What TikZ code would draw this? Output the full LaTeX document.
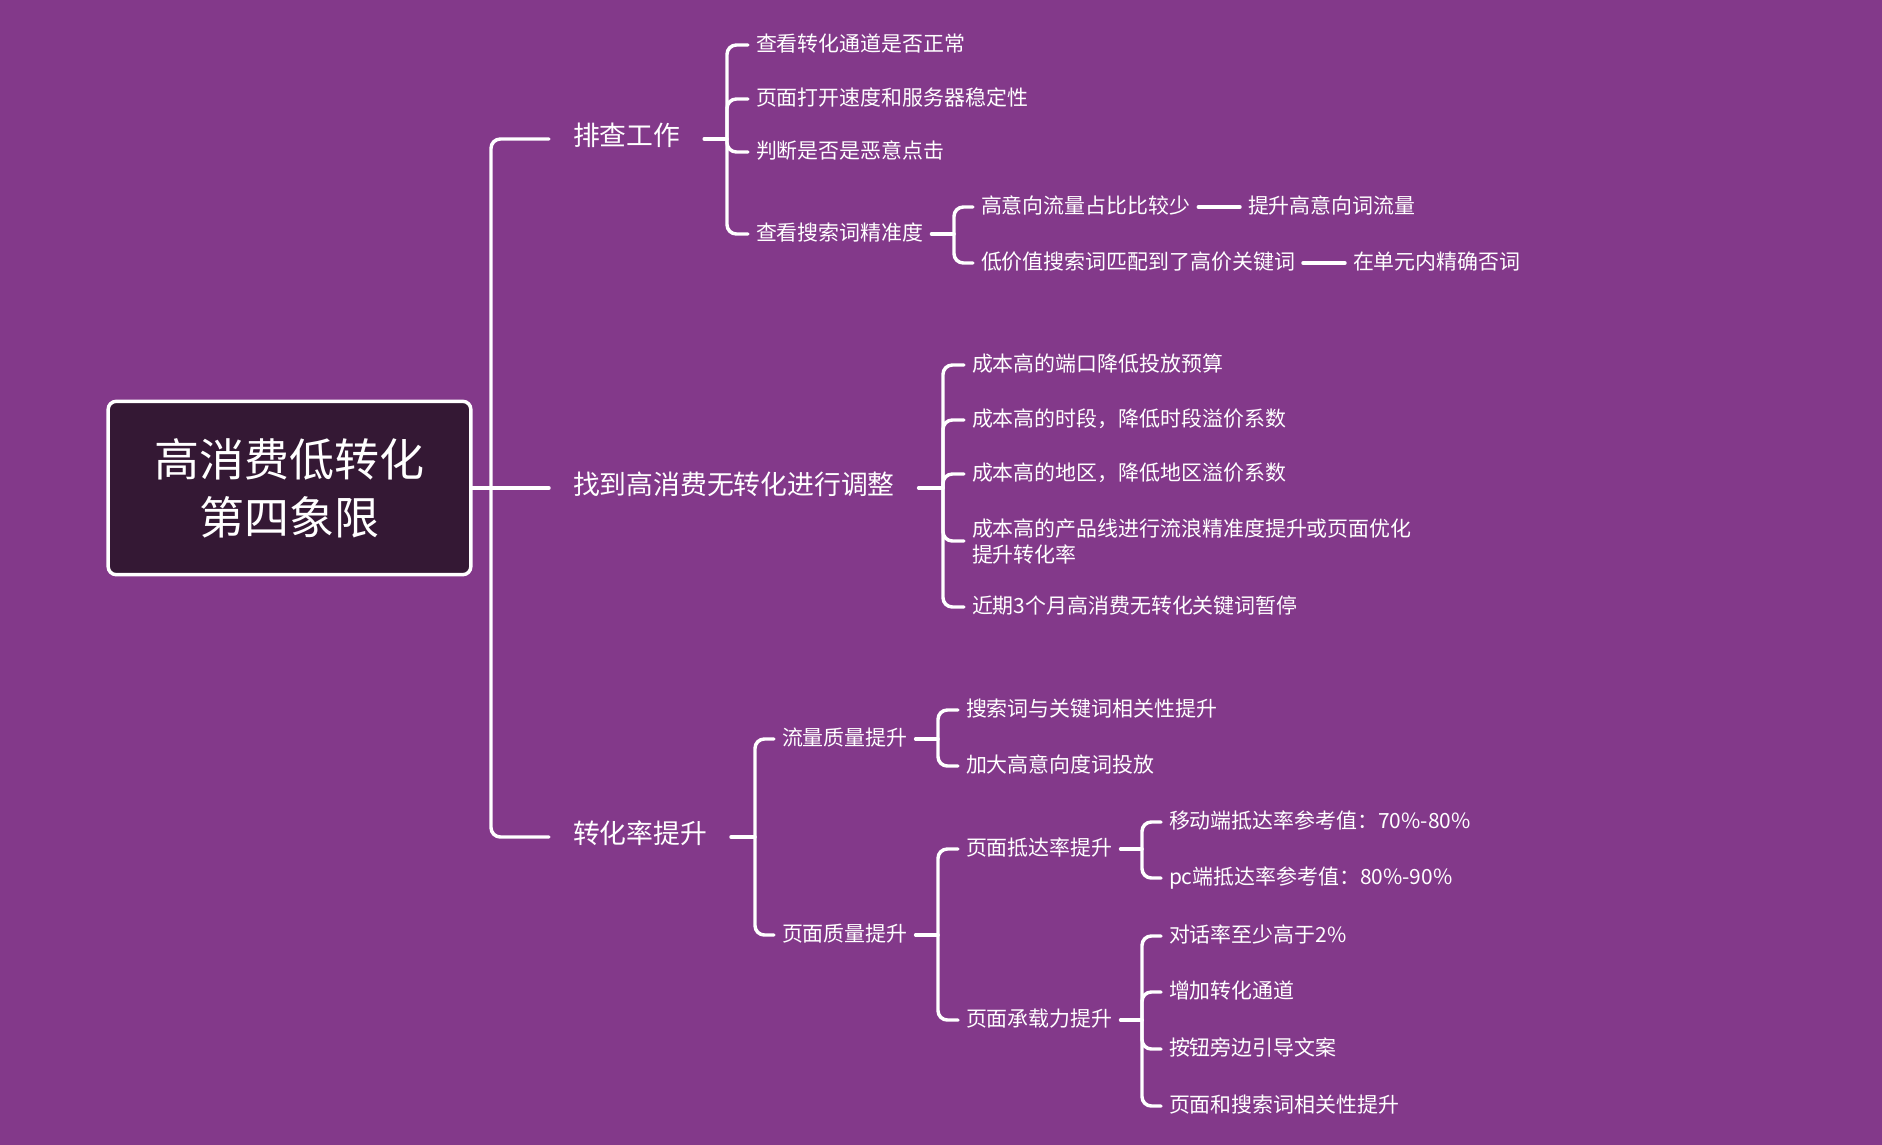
\documentclass[tikz,border=0pt]{standalone}
\usepackage{fontspec}
\setmainfont{Noto Sans CJK SC}
\definecolor{bg}{RGB}{131,57,138}
\definecolor{rootfill}{RGB}{52,24,52}
\begin{document}
\begin{tikzpicture}[x=0.75pt,y=-0.75pt,
  conn/.style={draw=white,line width=2.6pt,line cap=round,rounded corners=7pt},
  lvA/.style={text=white,inner sep=0pt,outer xsep=18pt,xshift=-18pt,anchor=west,
    font=\fontsize{20.1pt}{24pt}\selectfont,text height=1.02em,text depth=0em},
  lvB/.style={text=white,inner sep=0pt,outer xsep=6pt,xshift=-6pt,anchor=west,
    font=\fontsize{15.7pt}{19.5pt}\selectfont,text height=0.95em,text depth=0em},
]
\fill[bg] (0,0) rectangle (1882,1145);

% root
\node[draw=white,line width=2.6pt,fill=rootfill,rounded corners=6pt,
  minimum width=272pt,minimum height=130pt,align=center,text=white,
  font=\fontsize{33.75pt}{43.5pt}\selectfont] (root) at (289.5,488) {高消费低转化\\第四象限};

% level 1
\node[lvA] (l1a) at (573,139) {排查工作};
\node[lvA] (l1b) at (573,488) {找到高消费无转化进行调整};
\node[lvA] (l1c) at (573,837) {转化率提升};

\coordinate (tk) at (491,488);
\draw[conn] (root.east) -- (l1b.west);
\draw[conn] (tk) |- (l1a.west);
\draw[conn] (tk) |- (l1c.west);

% ---- 排查工作
\node[lvB] (a1) at (756,45) {查看转化通道是否正常};
\node[lvB] (a2) at (756,99) {页面打开速度和服务器稳定性};
\node[lvB] (a3) at (756,152) {判断是否是恶意点击};
\node[lvB] (a4) at (756,234) {查看搜索词精准度};
\coordinate (ka) at (727,139);
\draw[conn] (l1a.east) -- (ka);
\foreach \c in {a1,a2,a3,a4} \draw[conn] (ka) |- (\c.west);

\node[lvB] (a41) at (981,207) {高意向流量占比比较少};
\node[lvB] (a41r) at (1248,207) {提升高意向词流量};
\node[lvB] (a42) at (981,263) {低价值搜索词匹配到了高价关键词};
\node[lvB] (a42r) at (1353,263) {在单元内精确否词};
\coordinate (ka4) at (954,234);
\draw[conn] (a4.east) -- (ka4);
\foreach \c in {a41,a42} \draw[conn] (ka4) |- (\c.west);
\draw[conn] (a41.east) -- (a41r.west);
\draw[conn] (a42.east) -- (a42r.west);

% ---- 找到高消费无转化进行调整
\node[lvB] (b1) at (972,365) {成本高的端口降低投放预算};
\node[lvB] (b2) at (972,420) {成本高的时段，降低时段溢价系数};
\node[lvB] (b3) at (972,474) {成本高的地区，降低地区溢价系数};
\node[lvB,align=left,text height=,text depth=] (b4) at (972,541) {成本高的产品线进行流浪精准度提升或页面优化\\提升转化率};
\node[lvB] (b5) at (972,607) {近期3个月高消费无转化关键词暂停};
\coordinate (kb) at (943,488);
\draw[conn] (l1b.east) -- (kb);
\foreach \c in {b1,b2,b3,b4,b5} \draw[conn] (kb) |- (\c.west);

% ---- 转化率提升
\node[lvB] (c1) at (782,739) {流量质量提升};
\node[lvB] (c2) at (782,935) {页面质量提升};
\coordinate (kc) at (755,837);
\draw[conn] (l1c.east) -- (kc);
\foreach \c in {c1,c2} \draw[conn] (kc) |- (\c.west);

\node[lvB] (c11) at (966,710) {搜索词与关键词相关性提升};
\node[lvB] (c12) at (966,766) {加大高意向度词投放};
\coordinate (kc1) at (938,739);
\draw[conn] (c1.east) -- (kc1);
\foreach \c in {c11,c12} \draw[conn] (kc1) |- (\c.west);

\node[lvB] (c21) at (966,849) {页面抵达率提升};
\node[lvB] (c22) at (966,1020) {页面承载力提升};
\coordinate (kc2) at (938,935);
\draw[conn] (c2.east) -- (kc2);
\foreach \c in {c21,c22} \draw[conn] (kc2) |- (\c.west);

\node[lvB] (c211) at (1169,822) {移动端抵达率参考值：70\%-80\%};
\node[lvB] (c212) at (1169,878) {pc端抵达率参考值：80\%-90\%};
\coordinate (kc21) at (1142,849);
\draw[conn] (c21.east) -- (kc21);
\foreach \c in {c211,c212} \draw[conn] (kc21) |- (\c.west);

\node[lvB] (c221) at (1169,936) {对话率至少高于2\%};
\node[lvB] (c222) at (1169,992) {增加转化通道};
\node[lvB] (c223) at (1169,1049) {按钮旁边引导文案};
\node[lvB] (c224) at (1169,1106) {页面和搜索词相关性提升};
\coordinate (kc22) at (1142,1020);
\draw[conn] (c22.east) -- (kc22);
\foreach \c in {c221,c222,c223,c224} \draw[conn] (kc22) |- (\c.west);
\end{tikzpicture}
\end{document}
